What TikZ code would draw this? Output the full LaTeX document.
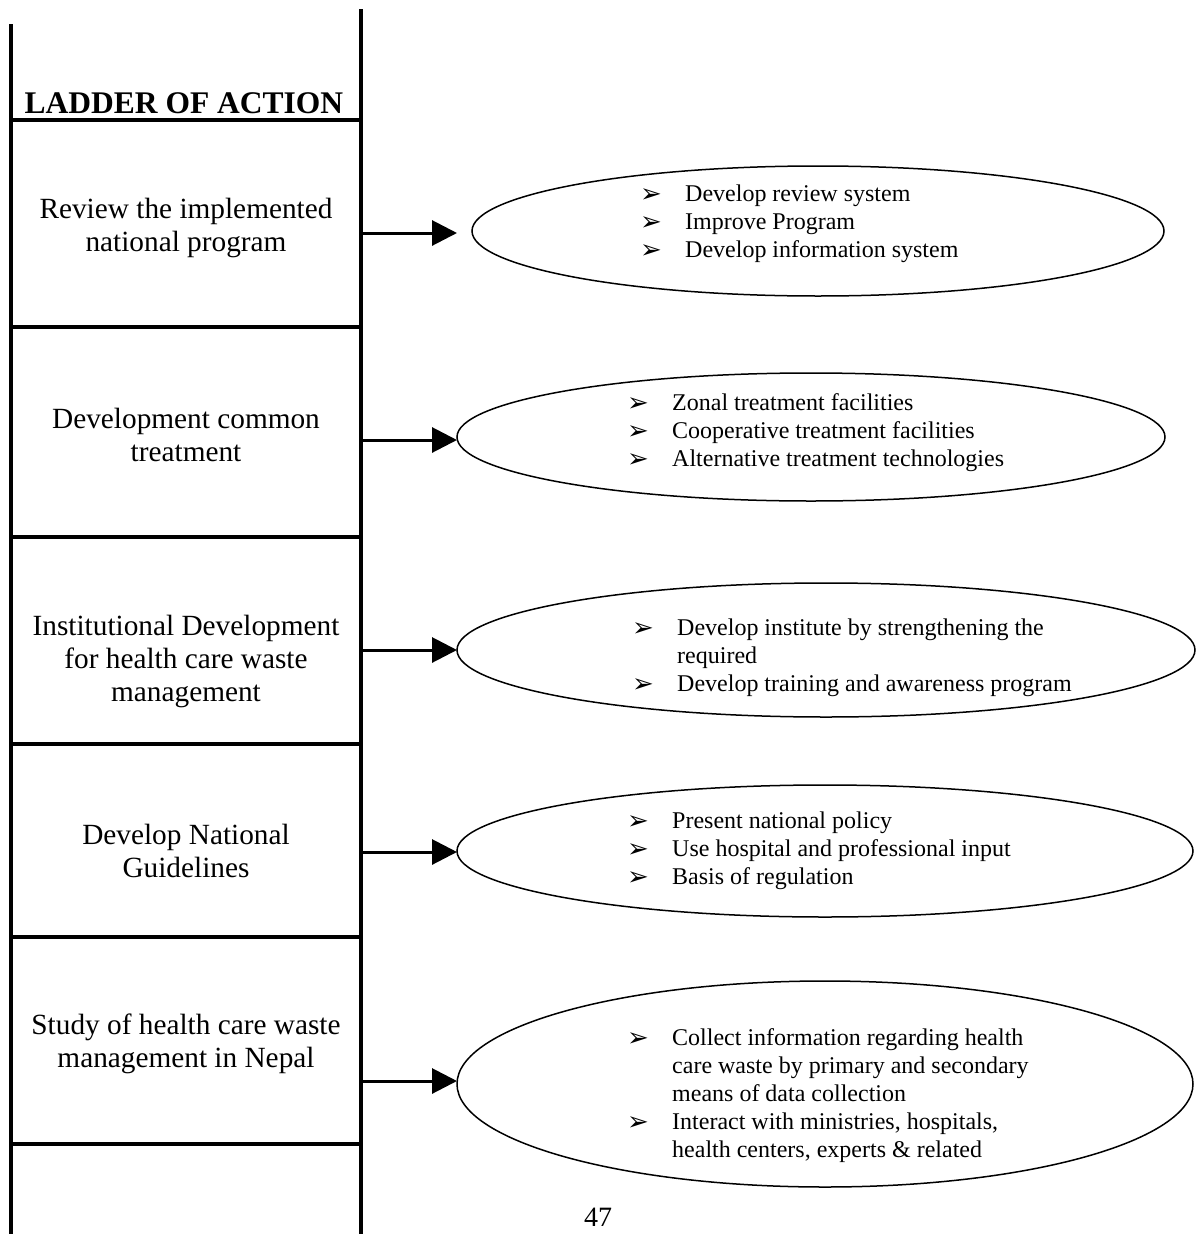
\documentclass[tikz,border=0pt]{standalone}
\usepackage{fontspec}
\setmainfont{Liberation Serif}
\newfontfamily\arrowfont{DejaVu Sans}
\usetikzlibrary{shapes.geometric,arrows.meta}
\newcommand\bul{{\arrowfont\fontsize{26}{26}\selectfont\raisebox{-1pt}{➢}}}
\newcommand\bitem[2]{\makebox[#1][l]{\bul}#2}
\newcommand\bcont[2]{\hspace*{#1}#2}
\begin{document}
\begin{tikzpicture}[x=1pt,y=-1pt,
  rail/.style={line width=3.5pt},
  rung/.style={line width=3.5pt},
  cell/.style={align=center,font=\fontsize{29.3}{33}\selectfont,inner sep=0pt},
  oval/.style={ellipse,draw,line width=1.5pt,inner sep=0pt},
  link/.style={line width=3pt,-{Triangle[length=25pt,width=25pt]}},
  list/.style={anchor=base west,inner sep=0pt,font=\fontsize{24}{28}\selectfont}
]
\useasboundingbox (0,0) rectangle (1196,1234);
\clip (0,0) rectangle (1196,1234);
% rails
\coordinate (lt) at (11,24);
\coordinate (lb) at (11,1240);
\coordinate (rt) at (361,9);
\coordinate (rb) at (361,1240);
\draw[rail] (lt) -- (lb);
\draw[rail] (rt) -- (rb);
% rungs
\foreach \i/\y in {1/120,2/327,3/537,4/744,5/937,6/1144}{
  \coordinate (l\i) at (11,\y);
  \coordinate (r\i) at (361,\y);
  \draw[rung] (l\i) -- (r\i);
}
% title
\node[anchor=base,inner sep=0pt,font=\fontsize{31.5}{33}\selectfont\bfseries] (title) at (184,113) {LADDER OF ACTION};
% cell labels
\node[cell] (c1) at (186,228) {Review the implemented\\national program};
\node[cell] (c2) at (186,435) {Development common\\treatment};
\node[cell] (c3) at (186,661) {Institutional Development\\for health care waste\\management};
\node[cell] (c4) at (186,851) {Develop National\\Guidelines};
\node[cell] (c5) at (186,1044) {Study of health care waste\\management in Nepal};
% ellipses
\node[oval,minimum width=692pt,minimum height=130pt] (e1) at (818,231) {};
\node[oval,minimum width=708pt,minimum height=128pt] (e2) at (811,437) {};
\node[oval,minimum width=738pt,minimum height=134pt] (e3) at (826,650) {};
\node[oval,minimum width=736pt,minimum height=132pt] (e4) at (825,851) {};
\node[oval,minimum width=736pt,minimum height=206pt] (e5) at (825,1084) {};
% arrows
\foreach \i/\y in {1/233,2/440,3/650,4/852,5/1081}{
  \coordinate (s\i) at (361,\y);
  \coordinate (g\i) at (457,\y);
  \draw[link] (s\i) -- (g\i);
}
% lists
\node[list] (t1) at (640,201) {\begin{tabular}[t]{@{}l@{}}
\bitem{45pt}{Develop review system}\\
\bitem{45pt}{Improve Program}\\
\bitem{45pt}{Develop information system}
\end{tabular}};
\node[list] (t2) at (627,410) {\begin{tabular}[t]{@{}l@{}}
\bitem{45pt}{Zonal treatment facilities}\\
\bitem{45pt}{Cooperative treatment facilities}\\
\bitem{45pt}{Alternative treatment technologies}
\end{tabular}};
\node[list] (t3) at (632,635) {\begin{tabular}[t]{@{}l@{}}
\bitem{45pt}{Develop institute by strengthening the}\\
\bcont{45pt}{required}\\
\bitem{45pt}{Develop training and awareness program}
\end{tabular}};
\node[list] (t4) at (627,828) {\begin{tabular}[t]{@{}l@{}}
\bitem{45pt}{Present national policy}\\
\bitem{45pt}{Use hospital and professional input}\\
\bitem{45pt}{Basis of regulation}
\end{tabular}};
\node[list] (t5) at (627,1045) {\begin{tabular}[t]{@{}l@{}}
\bitem{45pt}{Collect information regarding health}\\
\bcont{45pt}{care waste by primary and secondary}\\
\bcont{45pt}{means of data collection}\\
\bitem{45pt}{Interact with ministries, hospitals,}\\
\bcont{45pt}{health centers, experts \& related}
\end{tabular}};
% page number
\node[anchor=base,inner sep=0pt,font=\fontsize{28}{28}\selectfont] (pg) at (598,1226) {47};
\end{tikzpicture}
\end{document}
